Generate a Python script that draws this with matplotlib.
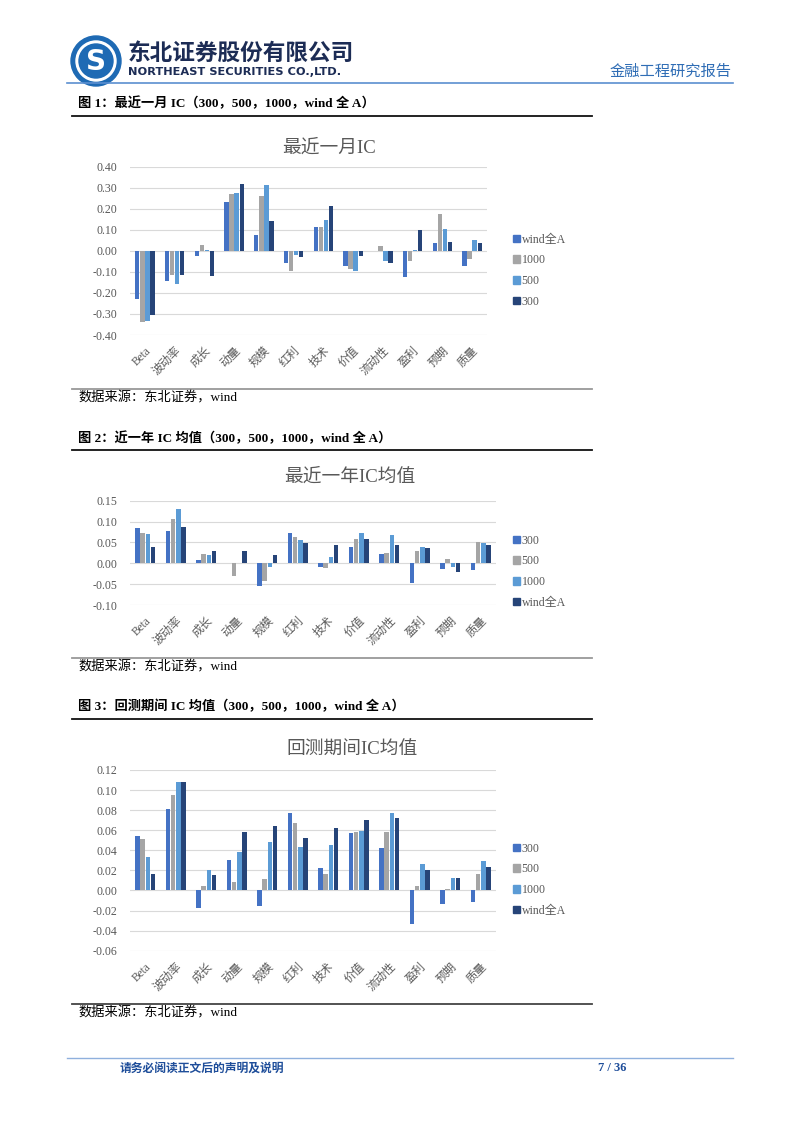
import numpy as np
import matplotlib
matplotlib.use('Agg')
import matplotlib.pyplot as plt
from matplotlib.patches import Ellipse, Patch

plt.rcParams['font.family'] = ['Liberation Serif', 'Noto Sans CJK SC']

categories = ['Beta', '波动率', '成长', '动量', '规模', '红利', '技术',
              '价值', '流动性', '盈利', '预期', '质量']

# 图1 最近一月IC
month_labels = ['wind全A', '1000', '500', '300']
month_s1 = [-0.227, -0.143, -0.024, 0.233, 0.073, -0.057, 0.114, -0.073, 0.0, -0.122, 0.038, -0.071]
month_s2 = [-0.338, -0.116, 0.027, 0.271, 0.260, -0.094, 0.111, -0.087, 0.024, -0.048, 0.175, -0.040]
month_s3 = [-0.333, -0.159, 0.006, 0.275, 0.314, -0.022, 0.149, -0.095, -0.048, 0.003, 0.106, 0.051]
month_s4 = [-0.306, -0.114, -0.121, 0.316, 0.143, -0.027, 0.211, -0.024, -0.060, 0.097, 0.040, 0.037]

# 图2 近一年IC均值
year_labels = ['300', '500', '1000', 'wind全A']
year_s1 = [0.085, 0.077, 0.008, 0.0, -0.054, 0.072, -0.010, 0.039, 0.022, -0.048, -0.014, -0.015]
year_s2 = [0.073, 0.107, 0.022, -0.030, -0.042, 0.063, -0.011, 0.057, 0.025, 0.029, 0.011, 0.050]
year_s3 = [0.071, 0.130, 0.021, 0.0, -0.010, 0.056, 0.015, 0.073, 0.067, 0.040, -0.010, 0.049]
year_s4 = [0.038, 0.087, 0.030, 0.030, 0.020, 0.049, 0.044, 0.058, 0.044, 0.036, -0.022, 0.045]

# 图3 回测期间IC均值
bt_labels = ['300', '500', '1000', 'wind全A']
bt_s1 = [0.0545, 0.0807, -0.0173, 0.030, -0.015, 0.0767, 0.022, 0.057, 0.042, -0.0336, -0.0136, -0.0113]
bt_s2 = [0.051, 0.0953, 0.004, 0.008, 0.011, 0.0668, 0.016, 0.058, 0.0585, 0.004, 0.001, 0.0163]
bt_s3 = [0.0336, 0.108, 0.0206, 0.0385, 0.0485, 0.0432, 0.045, 0.059, 0.0767, 0.026, 0.0126, 0.0296]
bt_s4 = [0.016, 0.1076, 0.015, 0.058, 0.064, 0.052, 0.062, 0.070, 0.0718, 0.020, 0.0126, 0.0236]

colors = ['#4472C4', '#A5A5A5', '#5B9BD5', '#264478']

W, H = 802, 1133
fig = plt.figure(figsize=(W / 100, H / 100), dpi=100)
fig.patch.set_facecolor('white')


def fx(x):
    return x / W


def fy(y):
    return 1 - y / H


def hline(y, x0, x1, color, lw):
    fig.add_artist(plt.Line2D([fx(x0), fx(x1)], [fy(y), fy(y)], color=color, lw=lw))


def circle(x, y, r, color):
    fig.add_artist(Ellipse((fx(x), fy(y)), 2 * r / W, 2 * r / H, color=color,
                           transform=fig.transFigure))


def draw_chart(left, right, top, bottom, series, labels, ylim, step,
               title, title_x, title_y, leg_y):
    ax = fig.add_axes([fx(left), fy(bottom), fx(right) - fx(left), (bottom - top) / H])
    x = np.arange(len(categories))
    pitch = 0.17
    for i, vals in enumerate(series):
        ax.bar(x + (i - 1.5) * pitch, vals, width=0.145, color=colors[i],
               label=labels[i], zorder=3)
    ax.set_xlim(-0.5, len(categories) - 0.5)
    ax.set_ylim(*ylim)
    ticks = np.round(np.arange(ylim[0], ylim[1] + step / 2, step), 4)
    ax.set_yticks(ticks)
    ax.set_yticklabels(['{:.2f}'.format(t + 0.0) for t in ticks], fontsize=8.6,
                       color='#595959')
    ax.yaxis.grid(True, color='#D9D9D9', lw=0.8, zorder=0)
    ax.set_xticks(x)
    ax.set_xticklabels(categories, rotation=45, ha='right', rotation_mode='anchor',
                       fontsize=8.3, color='#595959')
    ax.tick_params(axis='y', length=0, pad=9)
    ax.tick_params(axis='x', length=0, pad=7)
    for s in ax.spines.values():
        s.set_visible(False)
    fig.text(fx(title_x), fy(title_y), title, ha='center', va='center', fontsize=13.5,
             color='#595959', family=['Liberation Serif', 'Noto Sans CJK SC'])
    handles = [Patch(color=colors[i]) for i in range(4)]
    fig.legend(handles, labels, loc='upper left',
               bbox_to_anchor=(fx(508), fy(leg_y)), frameon=False,
               fontsize=8.6, handlelength=0.6, handleheight=0.6,
               handletextpad=0.15, labelspacing=0.72, borderaxespad=0,
               labelcolor='#595959')
    return ax


# 页眉
logo_x, logo_y = 96, 61
circle(logo_x, logo_y, 25, '#1e6ab4')
circle(logo_x, logo_y, 20, 'white')
circle(logo_x, logo_y, 17, '#1e6ab4')
fig.text(fx(logo_x), fy(logo_y + 1), 'S', ha='center', va='center', fontsize=20,
         color='white', fontweight='bold', family='DejaVu Sans')
fig.text(fx(128), fy(53), '东北证券股份有限公司', fontsize=16.3, fontweight='bold',
         color='#1c2c55', va='center', family='Noto Sans CJK SC')
fig.text(fx(128), fy(72), 'NORTHEAST SECURITIES CO.,LTD.', fontsize=8.2,
         fontweight='bold', color='#1c2c55', va='center', family='DejaVu Sans')
fig.text(fx(732), fy(71), '金融工程研究报告', fontsize=11, color='#2f6db5',
         ha='right', va='center', family='Noto Sans CJK SC')
hline(83, 67, 733, '#5b8fd0', 1.2)

caption_font = ['Liberation Serif', 'Noto Sans CJK SC']

# 图1
fig.text(fx(78), fy(103), '图 1：最近一月 IC（300，500，1000，wind 全 A）', fontsize=9.5,
         fontweight='bold', va='center', family=caption_font)
hline(116, 72, 592, '#111111', 1.3)
draw_chart(130, 487, 166.7, 335, [month_s1, month_s2, month_s3, month_s4], month_labels,
           (-0.4, 0.4), 0.1, '最近一月IC', 329, 148, 229)
hline(389, 72, 592, '#999999', 1.3)
fig.text(fx(78), fy(398), '数据来源：东北证券，wind', fontsize=9.5, va='center',
         family=caption_font)

# 图2
fig.text(fx(78), fy(438), '图 2：近一年 IC 均值（300，500，1000，wind 全 A）', fontsize=9.5,
         fontweight='bold', va='center', family=caption_font)
hline(450, 72, 592, '#111111', 1.3)
draw_chart(130, 496, 500.7, 605, [year_s1, year_s2, year_s3, year_s4], year_labels,
           (-0.1, 0.15), 0.05, '最近一年IC均值', 350, 477, 530)
hline(658, 72, 592, '#999999', 1.3)
fig.text(fx(78), fy(667), '数据来源：东北证券，wind', fontsize=9.5, va='center',
         family=caption_font)

# 图3
fig.text(fx(78), fy(707), '图 3：回测期间 IC 均值（300，500，1000，wind 全 A）', fontsize=9.5,
         fontweight='bold', va='center', family=caption_font)
hline(719, 72, 592, '#111111', 1.3)
draw_chart(130, 496, 770, 950.7, [bt_s1, bt_s2, bt_s3, bt_s4], bt_labels,
           (-0.06, 0.12), 0.02, '回测期间IC均值', 352, 750, 838)
hline(1004, 72, 592, '#444444', 1.3)
fig.text(fx(78), fy(1013), '数据来源：东北证券，wind', fontsize=9.5, va='center',
         family=caption_font)

# 页脚
hline(1058, 67, 733, '#8fb0dd', 1.0)
fig.text(fx(120), fy(1068), '请务必阅读正文后的声明及说明', fontsize=8.5, fontweight='bold',
         color='#1f4e9a', va='center', family='Noto Sans CJK SC')
fig.text(fx(612), fy(1068), '7 / 36', fontsize=9, fontweight='bold',
         color='#1f4e9a', ha='center', va='center', family='Liberation Serif')

fig.savefig('out.png', dpi=100)
